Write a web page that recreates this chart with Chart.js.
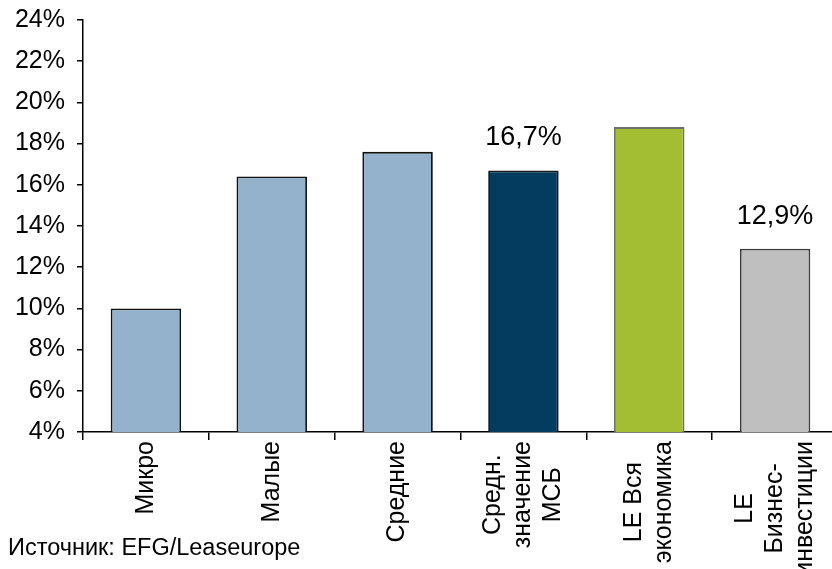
<!DOCTYPE html>
<html lang="ru">
<head>
<meta charset="utf-8">
<title>Лизинг по размеру компаний</title>
<script src="https://cdn.jsdelivr.net/npm/chart.js@4.4.1/dist/chart.umd.min.js"></script>
<style>
  html, body { margin: 0; padding: 0; background: #fff; overflow: hidden; }
  #cadre { position: relative; width: 840px; height: 569px; }
</style>
</head>
<body>
<div id="cadre"><canvas id="graphique"></canvas></div>
<script>
// Данные
const categories = [
    ["Микро"],
    ["Малые"],
    ["Средние"],
    ["Средн.", "значение", "МСБ"],
    ["LE Вся", "экономика"],
    ["LE", "Бизнес-", "инвестиции"]
];
const valeurs = [10.0, 16.4, 17.6, 16.7, 18.8, 12.9];
const barresAnnotees = [3, 5]; // подписи значений только над этими столбцами
const yMin = 4;
const yMax = 24;
const yPas = 2;
const source = "Источник: EFG/Leaseurope";

const couleurs = ["#94b2cb", "#94b2cb", "#94b2cb", "#023c5e", "#a4be33", "#bfbfbf"];
const bordures = ["#111111", "#111111", "#111111", "#1a1a1a", "#6e6e6e", "#3c3c3c"];
const police = '"Liberation Sans", Arial, sans-serif';

// Подписи оси X: повернутые, в несколько строк
const etiquettesX = {
    id: "etiquettesX",
    afterDraw(chart) {
        const ctx = chart.ctx;
        const axeX = chart.scales.x;
        ctx.save();
        ctx.font = `25px ${police}`;
        ctx.fillStyle = "#000";
        ctx.textAlign = "center";
        ctx.textBaseline = "middle";
        categories.forEach((lignes, i) => {
            const cx = axeX.getPixelForValue(i);
            const longueur = Math.max(...lignes.map(l => ctx.measureText(l).width));
            const cy = axeX.top + 9 + longueur / 2;
            lignes.forEach((ligne, j) => {
                ctx.save();
                ctx.translate(cx + (j - (lignes.length - 1) / 2) * 30, cy);
                ctx.rotate(-Math.PI / 2);
                ctx.fillText(ligne, 0, 0);
                ctx.restore();
            });
        });

        // Источник внизу слева
        ctx.font = `23.5px ${police}`;
        ctx.textAlign = "left";
        ctx.textBaseline = "alphabetic";
        ctx.fillText(source, 8, 555);
        ctx.restore();
    }
};

// Подписи значений над столбцами
const valeursBarres = {
    id: "valeursBarres",
    afterDatasetsDraw(chart) {
        const ctx = chart.ctx;
        const meta = chart.getDatasetMeta(0);
        ctx.save();
        ctx.font = `27px ${police}`;
        ctx.fillStyle = "#000";
        ctx.textAlign = "center";
        ctx.textBaseline = "alphabetic";
        barresAnnotees.forEach(i => {
            const barre = meta.data[i];
            const texte = valeurs[i].toFixed(1).replace(".", ",") + "%";
            ctx.fillText(texte, barre.x, barre.y - 25);
        });
        ctx.restore();
    }
};

new Chart(document.getElementById("graphique"), {
    type: "bar",
    data: {
        labels: categories.map(l => l.join(" ")),
        datasets: [{
            data: valeurs,
            backgroundColor: couleurs,
            borderColor: bordures,
            borderWidth: 1.8,
            borderSkipped: "start",
            categoryPercentage: 1,
            barPercentage: 0.56
        }]
    },
    options: {
        responsive: true,
        maintainAspectRatio: false,
        animation: false,
        layout: { padding: { top: 20, right: 2, bottom: 0, left: 0 } },
        plugins: {
            legend: { display: false },
            tooltip: { enabled: false }
        },
        scales: {
            x: {
                offset: true,
                grid: {
                    offset: true,
                    drawOnChartArea: false,
                    drawTicks: true,
                    tickLength: 8,
                    color: "#000",
                    lineWidth: 1.5
                },
                border: { color: "#000", width: 1.5 },
                ticks: { display: false },
                afterFit: (axe) => { axe.height = 137; }
            },
            y: {
                min: yMin,
                max: yMax,
                grid: {
                    drawOnChartArea: false,
                    drawTicks: true,
                    tickLength: 6,
                    color: "#000",
                    lineWidth: 1.5
                },
                border: { color: "#000", width: 1.5 },
                ticks: {
                    stepSize: yPas,
                    padding: 12,
                    color: "#000",
                    font: { family: police, size: 25 },
                    callback: (v) => v + "%"
                },
                afterFit: (axe) => {
                    axe.width = 83;
                    axe.paddingTop = 0;
                    axe.paddingBottom = 0;
                }
            }
        }
    },
    plugins: [etiquettesX, valeursBarres]
});
</script>
</body>
</html>
